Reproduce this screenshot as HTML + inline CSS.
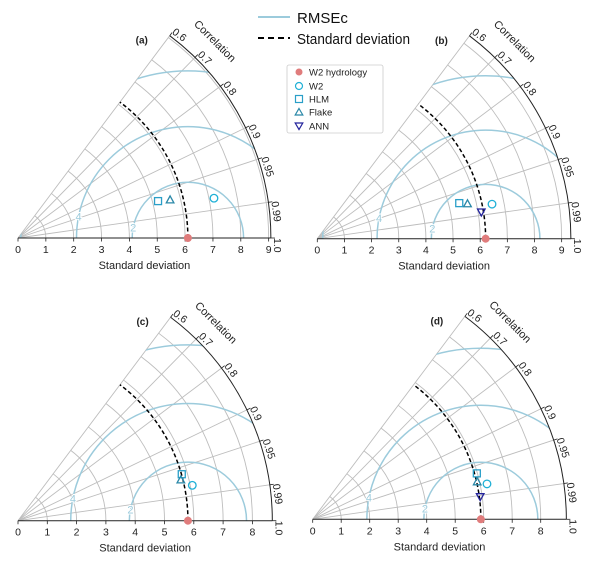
<!DOCTYPE html>
<html><head><meta charset="utf-8">
<style>
html,body{margin:0;padding:0;background:#fff;width:600px;height:564px;overflow:hidden;}
svg{display:block;font-family:"Liberation Sans","DejaVu Sans",sans-serif;}
</style></head>
<body>
<svg id="chart" width="600" height="564" viewBox="0 0 600 564" xmlns="http://www.w3.org/2000/svg">
  <g>
    <line x1="258" y1="17" x2="290" y2="17" stroke="#9ccbdc" stroke-width="2"/>
    <text x="297" y="23" font-size="15" fill="#111">RMSEc</text>
    <line x1="258" y1="38" x2="290" y2="38" stroke="#000" stroke-width="2" stroke-dasharray="6,4"/>
    <text x="297" y="44" font-size="15" textLength="113" lengthAdjust="spacingAndGlyphs" fill="#111">Standard deviation</text>
  </g>
  <g>
    <rect x="287" y="65" width="96" height="68" fill="#fff" stroke="#ccc" stroke-width="0.8" rx="2"/>
    <circle cx="299" cy="72" r="3.5" fill="#e07c7c"/>
    <text x="309" y="75.5" font-size="9.5" fill="#222">W2 hydrology</text>
    <circle cx="299" cy="86" r="3.5" fill="none" stroke="#1fb0d6" stroke-width="1.2"/>
    <text x="309" y="89.5" font-size="9.5" fill="#222">W2</text>
    <rect x="295.5" y="95.5" width="7" height="7" fill="none" stroke="#2a9fc8" stroke-width="1.2"/>
    <text x="309" y="102.5" font-size="9.5" fill="#222">HLM</text>
    <polygon points="299,108.5 302.8,115 295.2,115" fill="none" stroke="#2a88a8" stroke-width="1.2"/>
    <text x="309" y="115.5" font-size="9.5" fill="#222">Flake</text>
    <polygon points="295.2,123 302.8,123 299,129.5" fill="none" stroke="#23239c" stroke-width="1.2"/>
    <text x="309" y="129.5" font-size="9.5" fill="#222">ANN</text>
  </g>
</svg>
<script>
// Data per panel: [W2, HLM, Flake, ANN] (null = absent)
const modelNames = ["W2", "HLM", "Flake", "ANN"];
const corrTicks = [0.6, 0.7, 0.8, 0.9, 0.95, 0.99, 1.0];
const rmseLevels = [2, 4, 6];
const panelLabels = ["(a)", "(b)", "(c)", "(d)"];
const refStd = [6.1, 6.2, 5.8, 5.9];
const stdA = [7.18, 5.20, 5.63, null];
const corrA = [0.980, 0.967, 0.970, null];
const stdB = [6.56, 5.39, 5.68, 6.12];
const corrB = [0.981, 0.970, 0.974, 0.987];
const stdC = [6.07, 5.81, 5.73, null];
const corrC = [0.980, 0.962, 0.970, null];
const stdD = [6.24, 5.98, 5.92, 5.93];
const corrD = [0.980, 0.963, 0.975, 0.991];

const layouts = [
  {ox:18, oy:238, sc:27.85, rmax:9.08, tmax:9},
  {ox:317.3, oy:238.7, sc:27.15, rmax:9.34, tmax:9},
  {ox:18, oy:520.7, sc:29.3, rmax:8.68, tmax:8},
  {ox:312.7, oy:519.3, sc:28.5, rmax:8.9, tmax:8}
];
const stds = [stdA, stdB, stdC, stdD];
const corrs = [corrA, corrB, corrC, corrD];
const NS = "http://www.w3.org/2000/svg";
const svg = document.getElementById("chart");
function mk(tag, attrs, parent){const e=document.createElementNS(NS,tag);for(const k in attrs)e.setAttribute(k,attrs[k]);parent.appendChild(e);return e;}
const modelColors = ["#1fb0d6","#2a9fc8","#2a88a8","#23239c"];
const tMin = Math.acos(0.6);

layouts.forEach((L, p) => {
  const g = mk("g", {}, svg);
  
  
  const X = (r, t) => L.ox + r * L.sc * Math.cos(t);
  const Y = (r, t) => L.oy - r * L.sc * Math.sin(t);
  const R = L.rmax * L.sc;
  const cid = "clip" + p;
  const cp = mk("clipPath", {id: cid}, g);
  mk("path", {d:`M${L.ox},${L.oy} L${X(L.rmax,0)},${Y(L.rmax,0)} A${R},${R} 0 0 0 ${X(L.rmax,tMin)},${Y(L.rmax,tMin)} Z`}, cp);
  for (let s = 1; s <= L.tmax; s++) {
    const a = mk("path", {d:`M${X(s,0)},${Y(s,0)} A${s*L.sc},${s*L.sc} 0 0 0 ${X(s,tMin)},${Y(s,tMin)}`, fill:"none", stroke:"#bdbdbd", "stroke-width":0.9}, g);
    
    
  }
  corrTicks.forEach(c => {
    const t = Math.acos(c);
    if (c < 1) {
      const l = mk("line", {x1:L.ox, y1:L.oy, x2:X(L.rmax,t), y2:Y(L.rmax,t), stroke:"#bdbdbd", "stroke-width":0.9}, g);
      
      
    }
  });
  const ref = refStd[p];
  rmseLevels.forEach(lv => {
    const c = mk("circle", {cx:X(ref,0), cy:L.oy, r:lv*L.sc, fill:"none", stroke:"#9ccbdc", "stroke-width":1.5, "clip-path":`url(#${cid})`}, g);
    
    
    if (lv < 6) {
      const ang = 169 * Math.PI / 180;
      const tx = mk("text", {x:X(ref,0) + lv*L.sc*Math.cos(ang), y:L.oy - lv*L.sc*Math.sin(ang) + 4, "font-size":11, fill:"#9ccbdc", "text-anchor":"middle", stroke:"#fff", "stroke-width":2, "paint-order":"stroke"}, g);
      tx.textContent = lv;
      
      
    }
  });
  const rs = ref * L.sc;
  const da = mk("path", {d:`M${X(ref,0)},${Y(ref,0)} A${rs},${rs} 0 0 0 ${X(ref,tMin)},${Y(ref,tMin)}`, fill:"none", stroke:"#000", "stroke-width":1.5, "stroke-dasharray":"4,2.5"}, g);
  
  
  const oa = mk("path", {d:`M${X(L.rmax,0)},${Y(L.rmax,0)} A${R},${R} 0 0 0 ${X(L.rmax,tMin)},${Y(L.rmax,tMin)}`, fill:"none", stroke:"#222", "stroke-width":1}, g);
  
  
  const xa = mk("line", {x1:L.ox, y1:L.oy, x2:X(L.rmax,0), y2:L.oy, stroke:"#222", "stroke-width":1}, g);
  
  
  for (let s = 0; s <= L.tmax; s++) {
    const tk = mk("line", {x1:X(s,0), y1:L.oy, x2:X(s,0), y2:L.oy+3.5, stroke:"#222", "stroke-width":0.8}, g);
    
    
    const tl = mk("text", {x:X(s,0), y:L.oy+15, "font-size":10.5, fill:"#222", "text-anchor":"middle"}, g);
    tl.textContent = s;
    
    
  }
  const xt = mk("text", {x:L.ox + L.rmax*L.sc*0.5, y:L.oy+31, "font-size":11, fill:"#222", "text-anchor":"middle"}, g);
  xt.textContent = "Standard deviation";
  
  
  corrTicks.forEach(c => {
    const t = Math.acos(c);
    const tk = mk("line", {x1:X(L.rmax,t), y1:Y(L.rmax,t), x2:X(L.rmax+4/L.sc,t), y2:Y(L.rmax+4/L.sc,t), stroke:"#222", "stroke-width":0.8}, g);
    
    
    const lx = X(L.rmax + 6/L.sc, t), ly = Y(L.rmax + 6/L.sc, t);
    const rot = 90 - t*180/Math.PI;
    const tl = mk("text", {x:lx, y:ly, "font-size":10.5, fill:"#222", "dominant-baseline":"central", transform:`rotate(${rot} ${lx} ${ly})`}, g);
    tl.textContent = c.toFixed(c===0.95||c===0.99 ? 2 : 1);
    
    
  });
  const ct = Math.PI/4, cr = L.rmax*L.sc + 25;
  const cx = L.ox + cr*Math.cos(ct), cy = L.oy - cr*Math.sin(ct);
  const corrTitle = mk("text", {x:cx, y:cy, "font-size":11, fill:"#222", "text-anchor":"middle", "dominant-baseline":"central", transform:`rotate(45 ${cx} ${cy})`}, g);
  corrTitle.textContent = "Correlation";
  
  
  const pl = mk("text", {x:X(L.rmax,tMin)-28, y:Y(L.rmax,tMin)+8, "font-size":10, "font-weight":"bold", fill:"#222", "text-anchor":"middle"}, g);
  pl.textContent = panelLabels[p];
  
  
  const rp = mk("circle", {cx:X(ref,0), cy:L.oy, r:4, fill:"#e07c7c"}, g);
  
  
  stds[p].forEach((s, i) => {
    if (s === null) return;
    const t = Math.acos(corrs[p][i]);
    const px = X(s,t), py = Y(s,t), col = modelColors[i];
    let m;
    if (i === 0) m = mk("circle", {cx:px, cy:py, r:3.8, fill:"none", stroke:col, "stroke-width":1.3}, g);
    else if (i === 1) m = mk("rect", {x:px-3.5, y:py-3.5, width:7, height:7, fill:"none", stroke:col, "stroke-width":1.3}, g);
    else if (i === 2) m = mk("polygon", {points:`${px},${py-4} ${px+3.8},${py+3} ${px-3.8},${py+3}`, fill:"none", stroke:col, "stroke-width":1.3}, g);
    else m = mk("polygon", {points:`${px-3.8},${py-3} ${px+3.8},${py-3} ${px},${py+4}`, fill:"none", stroke:col, "stroke-width":1.3}, g);
    
    
  });
});
</script>
</body></html>
